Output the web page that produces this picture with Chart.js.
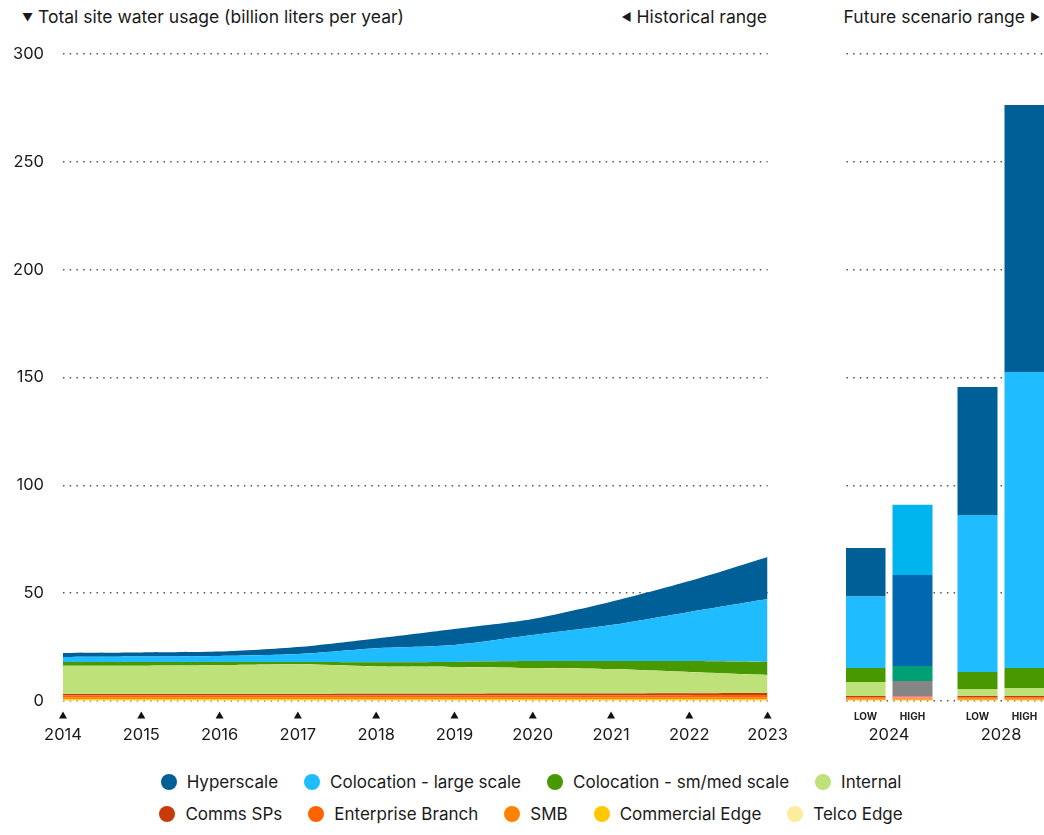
<!DOCTYPE html>
<html>
<head>
<meta charset="utf-8">
<script src="https://cdn.jsdelivr.net/npm/chart.js@4.4.1/dist/chart.umd.min.js"></script>
<style>
  body {
    margin: 0;
    width: 1044px;
    height: 835px;
    overflow: hidden;
    position: relative;
    background: #fff;
    color: #1a1a1a;
    font-family: Inter, "Noto Sans", sans-serif;
  }
  .note {
    position: absolute;
    top: 6px;
    font-size: 17.5px;
    line-height: 22px;
    white-space: nowrap;
  }
  .note .arrow { font-size: 11px; vertical-align: 2px; }
  #histWrap { position: absolute; left: 0; top: 0; }
  #futureWrap {
    position: absolute;
    left: 846px;
    top: 0;
    width: 198px;
    height: 760px;
    overflow: hidden;
  }
  #futureChart { position: absolute; left: -13px; top: 0; }
  .legend {
    position: absolute;
    left: 9px;
    top: 766px;
    width: 1044px;
    font-size: 17px;
  }
  .legend .row {
    display: flex;
    justify-content: center;
    gap: 26px;
    height: 32px;
    align-items: center;
  }
  .legend .item { display: flex; align-items: center; gap: 10px; white-space: nowrap; }
  .legend .dot { width: 16px; height: 16px; border-radius: 50%; }
</style>
</head>
<body>

<div class="note" style="left:22px"><span class="arrow">▼</span> Total site water usage (billion liters per year)</div>
<div class="note" style="right:277px"><span class="arrow">◀</span> Historical range</div>
<div class="note" style="right:4px">Future scenario range <span class="arrow">▶</span></div>

<div id="histWrap"><canvas id="histChart" width="812" height="760"></canvas></div>
<div id="futureWrap"><canvas id="futureChart" width="224" height="760"></canvas></div>

<div class="legend" id="legend"></div>

<script>
"use strict";

// Historical years (billion liters per year, stacked)
const years = ['2014', '2015', '2016', '2017', '2018', '2019', '2020', '2021', '2022', '2023'];

const histTelcoEdge      = [0.2, 0.2, 0.2, 0.2, 0.2, 0.2, 0.2, 0.2, 0.2, 0.2];
const histCommercialEdge = [0.6, 0.6, 0.6, 0.6, 0.6, 0.6, 0.6, 0.6, 0.6, 0.6];
const histSMB            = [0.9, 0.9, 0.9, 0.9, 0.9, 0.9, 0.9, 0.9, 0.9, 0.9];
const histEnterprise     = [0.8, 0.8, 0.85, 0.85, 0.9, 0.9, 0.95, 0.95, 1.0, 1.05];
const histCommsSPs       = [0.7, 0.7, 0.75, 0.75, 0.8, 0.8, 0.85, 0.85, 0.9, 0.95];
const histInternal       = [13.1, 13.2, 13.3, 13.7, 12.6, 12.4, 11.8, 11.3, 9.8, 8.3];
const histColoSmall      = [1.8, 1.7, 1.5, 1.1, 2.0, 2.3, 3.2, 3.7, 5.1, 6.1];
const histColoLarge      = [2.3, 2.5, 2.8, 3.7, 6.5, 7.9, 12.1, 16.7, 22.8, 29.2];
const histHyperscale     = [1.9, 1.9, 2.0, 3.2, 4.5, 7.4, 7.4, 10.8, 14.3, 19.5];

// Future scenarios: [2024, 2028]
const scenarioYears = ['2024', '2028'];

const lowTelcoEdge      = [0.2, 0.2];
const lowCommercialEdge = [0.4, 0.4];
const lowSMB            = [0.5, 0.5];
const lowEnterprise     = [0.5, 0.5];
const lowCommsSPs       = [0.7, 0.7];
const lowInternal       = [6.5, 3.3];
const lowColoSmall      = [6.5, 7.8];
const lowColoLarge      = [33.1, 72.8];
const lowHyperscale     = [22.6, 59.4];

const highTelcoEdge      = [0.2, 0.2];
const highCommercialEdge = [0.4, 0.4];
const highSMB            = [0.5, 0.5];
const highEnterprise     = [0.5, 0.5];
const highCommsSPs       = [0.7, 0.7];
const highInternal       = [7.0, 3.7];
const highColoSmall      = [6.9, 9.3];
const highColoLarge      = [42.2, 137.2];
const highHyperscale     = [32.6, 123.8];

const yTicks = [0, 50, 100, 150, 200, 250, 300];

// Series, bottom of the stack first
const series = [
    { name: 'Telco Edge',             color: '#ffeb9c', alt: '#ffeb9c', hist: histTelcoEdge,      low: lowTelcoEdge,      high: highTelcoEdge },
    { name: 'Commercial Edge',        color: '#ffc800', alt: '#ffc800', hist: histCommercialEdge, low: lowCommercialEdge, high: highCommercialEdge },
    { name: 'SMB',                    color: '#ff8200', alt: '#ff8a00', hist: histSMB,            low: lowSMB,            high: highSMB },
    { name: 'Enterprise Branch',      color: '#ff6300', alt: '#ff7a30', hist: histEnterprise,     low: lowEnterprise,     high: highEnterprise },
    { name: 'Comms SPs',              color: '#c83a0a', alt: '#e87ca0', hist: histCommsSPs,       low: lowCommsSPs,       high: highCommsSPs },
    { name: 'Internal',               color: '#bee179', alt: '#858585', hist: histInternal,       low: lowInternal,       high: highInternal },
    { name: 'Colocation - sm/med scale', color: '#489800', alt: '#00a074', hist: histColoSmall,  low: lowColoSmall,      high: highColoSmall },
    { name: 'Colocation - large scale',  color: '#1fbcff', alt: '#0068b0', hist: histColoLarge,  low: lowColoLarge,      high: highColoLarge },
    { name: 'Hyperscale',             color: '#005f96', alt: '#00b4ee', hist: histHyperscale,     low: lowHyperscale,     high: highHyperscale }
];

const legendRows = [
    ['Hyperscale', 'Colocation - large scale', 'Colocation - sm/med scale', 'Internal'],
    ['Comms SPs', 'Enterprise Branch', 'SMB', 'Commercial Edge', 'Telco Edge']
];

const font = { family: 'Inter, "Noto Sans", sans-serif', size: 16 };
const tickFont = { family: 'Inter, "Noto Sans", sans-serif', size: 16.5 };
const gridColor = '#555';
const gridDash = [1.5, 5.2];

Chart.defaults.color = '#1a1a1a';
Chart.defaults.font = font;

// Small up-pointing marks under each historical year
const tickMarks = {
    id: 'tickMarks',
    afterDraw(chart) {
        const ctx = chart.ctx;
        const x = chart.scales.x;
        const y = chart.chartArea.bottom + 14;
        ctx.save();
        ctx.fillStyle = '#111';
        x.ticks.forEach((t, i) => {
            const px = x.getPixelForTick(i);
            ctx.beginPath();
            ctx.moveTo(px - 4, y + 3.5);
            ctx.lineTo(px + 4, y + 3.5);
            ctx.lineTo(px, y - 3.5);
            ctx.closePath();
            ctx.fill();
        });
        ctx.restore();
    }
};

// LOW / HIGH under each scenario bar
const scenarioLabels = {
    id: 'scenarioLabels',
    afterDatasetsDraw(chart) {
        const ctx = chart.ctx;
        const y = chart.chartArea.bottom + 16;
        ctx.save();
        ctx.font = 'bold 10px Inter, "Noto Sans", sans-serif';
        ctx.fillStyle = '#222';
        ctx.textAlign = 'center';
        ctx.textBaseline = 'middle';
        ['low', 'high'].forEach(stack => {
            const idx = chart.data.datasets.findIndex(d => d.stack === stack);
            chart.getDatasetMeta(idx).data.forEach(bar => {
                ctx.fillText(stack.toUpperCase(), bar.x, y);
            });
        });
        ctx.restore();
    }
};

const yScale = (showLabels) => ({
    stacked: true,
    min: 0,
    max: 300,
    z: 1,
    afterBuildTicks: scale => { scale.ticks = yTicks.map(v => ({ value: v })); },
    afterFit: scale => { scale.width = showLabels ? 63 : 0; },
    grid: { color: gridColor, lineWidth: 1.5, drawTicks: false },
    border: { display: false, dash: gridDash },
    ticks: { display: showLabels, padding: 19, color: '#1a1a1a', font: tickFont }
});

// Historical stacked areas
new Chart(document.getElementById('histChart'), {
    type: 'line',
    data: {
        labels: years,
        datasets: series.map((s, i) => ({
            label: s.name,
            data: s.hist,
            backgroundColor: s.color,
            borderWidth: 0,
            pointRadius: 0,
            tension: 0.25,
            fill: i === 0 ? 'origin' : '-1'
        }))
    },
    options: {
        responsive: false,
        animation: false,
        layout: { padding: { top: 54, right: 33, left: 0, bottom: 0 } },
        plugins: { legend: { display: false }, tooltip: { enabled: false } },
        scales: {
            x: {
                offset: false,
                afterFit: scale => { scale.height = 59; },
                grid: { display: false, drawTicks: false },
                border: { display: false },
                ticks: { padding: 24, color: '#1a1a1a', font: tickFont, maxRotation: 0, autoSkip: false }
            },
            y: yScale(true)
        }
    },
    plugins: [tickMarks]
});

// Future scenario stacked bars, LOW and HIGH side by side
const futureDatasets = [];
['low', 'high'].forEach(stack => {
    series.forEach(s => {
        futureDatasets.push({
            label: s.name,
            stack: stack,
            data: s[stack],
            backgroundColor: stack === 'high' ? [s.alt, s.color] : s.color,
            borderWidth: 0,
            categoryPercentage: 94 / 112,
            barPercentage: 40 / 47
        });
    });
});

new Chart(document.getElementById('futureChart'), {
    type: 'bar',
    data: { labels: scenarioYears, datasets: futureDatasets },
    options: {
        responsive: false,
        animation: false,
        layout: { padding: { top: 54, right: 0, left: 0, bottom: 0 } },
        plugins: { legend: { display: false }, tooltip: { enabled: false } },
        scales: {
            x: {
                stacked: true,
                afterFit: scale => { scale.height = 59; },
                grid: { display: false, drawTicks: false },
                border: { display: false },
                ticks: { padding: 24, color: '#1a1a1a', font: tickFont }
            },
            y: yScale(false)
        }
    },
    plugins: [scenarioLabels]
});

// Legend
const legendEl = document.getElementById('legend');
legendRows.forEach(names => {
    const row = document.createElement('div');
    row.className = 'row';
    names.forEach(name => {
        const s = series.find(x => x.name === name);
        const item = document.createElement('div');
        item.className = 'item';
        item.innerHTML = '<span class="dot" style="background:' + s.color + '"></span><span>' + name + '</span>';
        row.appendChild(item);
    });
    legendEl.appendChild(row);
});
</script>
</body>
</html>
